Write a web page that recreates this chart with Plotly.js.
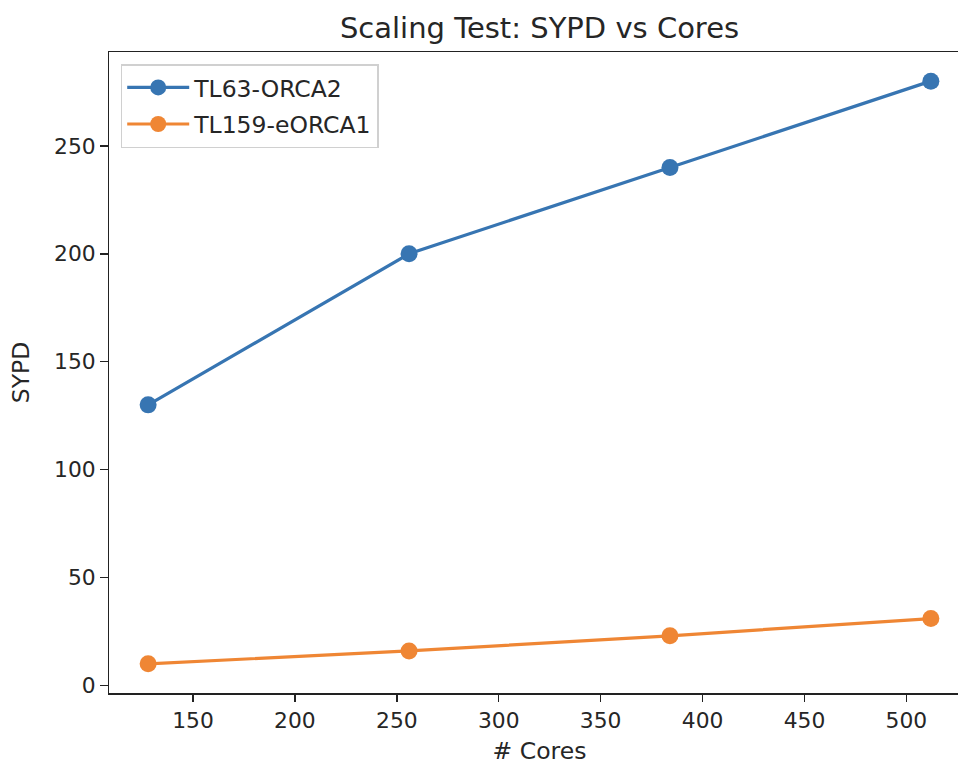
<!DOCTYPE html>
<html>
<head>
<meta charset="utf-8">
<script src="https://cdn.plot.ly/plotly-3.0.1.min.js"></script>
<style>
html,body{margin:0;padding:0;overflow:hidden;background:#fff;}
#chart{width:975px;height:765px;}
</style>
</head>
<body>
<div id="chart"></div>
<script>
const cores = [128, 256, 384, 512];
const tl63_orca2 = [130, 200, 240, 280];
const tl159_eorca1 = [10, 16, 23, 31];
const seriesNames = ["TL63-ORCA2", "TL159-eORCA1"];
const seriesColors = ["#3775b2", "#ef8634"];
const xTicks = [150, 200, 250, 300, 350, 400, 450, 500];
const yTicks = [0, 50, 100, 150, 200, 250];

const font = {family: "DejaVu Sans, sans-serif", color: "#262626"};

const traces = [tl63_orca2, tl159_eorca1].map((ys, i) => ({
  type: "scatter",
  mode: "lines+markers",
  x: cores,
  y: ys,
  name: seriesNames[i],
  legendgroup: "g" + i,
  line: {color: seriesColors[i], width: 3.2},
  marker: {color: seriesColors[i], size: 17}
}));

const axisCommon = {
  showgrid: false,
  zeroline: false,
  showline: true,
  linecolor: "#222",
  linewidth: 1.5,
  ticks: "outside",
  ticklen: 7.5,
  tickwidth: 1.5,
  tickcolor: "#222",
  tickfont: Object.assign({size: 21.8}, font),
  automargin: false
};

const layout = {
  width: 975,
  height: 765,
  margin: {l: 109, r: 5, t: 52, b: 71.5},
  paper_bgcolor: "#fff",
  plot_bgcolor: "#fff",
  font: font,
  title: {
    text: "Scaling Test: SYPD vs Cores",
    font: Object.assign({size: 29}, font),
    x: 0.5, xref: "paper", xanchor: "center",
    y: 1 - 28/765, yref: "container", yanchor: "middle"
  },
  xaxis: Object.assign({}, axisCommon, {
    mirror: true,
    range: [108.8, 531.2],
    tickvals: xTicks,
    ticktext: xTicks.map(String),
    title: {text: "# Cores", font: Object.assign({size: 23.5}, font), standoff: 15}
  }),
  yaxis: Object.assign({}, axisCommon, {
    mirror: false,
    range: [-3.5, 293.5],
    tickvals: yTicks,
    ticktext: yTicks.map(String),
    title: {text: "SYPD", font: Object.assign({size: 23.5}, font), standoff: 18}
  }),
  legend: {
    x: 0.0136, y: 0.981, xanchor: "left", yanchor: "top",
    bgcolor: "rgba(255,255,255,0.8)",
    bordercolor: "#d0d0d0",
    borderwidth: 1.5,
    itemwidth: 62,
    tracegroupgap: 3,
    traceorder: "grouped",
    font: Object.assign({size: 23.5}, font)
  },
  showlegend: true
};

Plotly.newPlot("chart", traces, layout, {displayModeBar: false, staticPlot: true});
</script>
</body>
</html>
